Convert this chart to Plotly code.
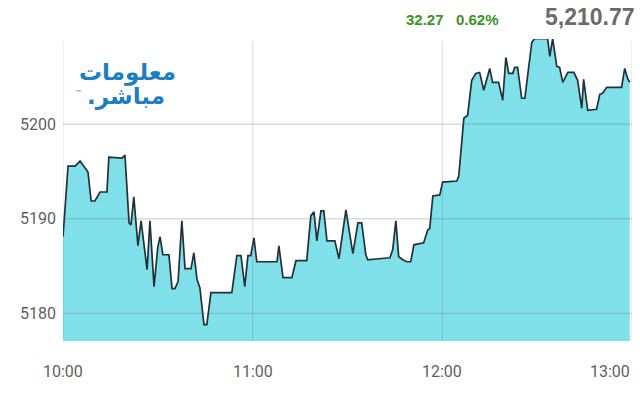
import plotly.graph_objects as go

# minutes after 10:00 and index level
minutes = [0, 1.6, 3.8, 5.4, 7.9, 8.9, 10.1, 11.7, 13.9, 14.5, 18.7, 19.6, 20.9, 21.5, 22.4, 23.7,
           24.7, 26.6, 27.5, 28.8, 30.0, 30.7, 31.6, 33.5, 34.5, 35.4, 36.4, 37.6, 38.6, 40.5,
           41.4, 42.4, 43.3, 44.6, 45.5, 46.8, 53.4, 55.0, 56.3, 57.5, 58.5, 59.4, 60.4, 61.3,
           67.7, 68.3, 69.6, 72.4, 73.7, 77.1, 78.4, 79.4, 80.3, 81.6, 82.5, 83.5, 86.0, 87.3,
           89.5, 91.7, 93.3, 94.5, 95.8, 96.4, 99.9, 103.4, 104.3, 105.3, 106.2, 107.5, 108.8,
           110.0, 111.0, 114.1, 115.4, 116.0, 117.0, 119.2, 120.1, 124.6, 125.2, 126.1, 126.8,
           128.0, 129.3, 130.6, 131.8, 133.1, 135.0, 135.9, 137.8, 139.1, 140.1, 141.0, 142.3,
           142.9, 143.8, 145.1, 146.1, 148.3, 149.2, 153.3, 154.0, 154.9, 156.2, 157.1, 158.1,
           159.7, 161.6, 162.8, 164.1, 164.7, 166.0, 168.8, 169.8, 170.7, 172.0, 176.7, 177.7,
           178.6, 179.3]
values = [5188.11, 5195.58, 5195.58, 5196.11, 5194.95, 5191.89, 5191.89, 5192.84, 5192.84,
          5196.53, 5196.42, 5196.74, 5189.58, 5189.37, 5192.32, 5187.16, 5189.79, 5184.63,
          5189.79, 5182.84, 5187.05, 5188.11, 5186.21, 5186.21, 5182.63, 5182.63, 5183.37,
          5189.79, 5184.74, 5184.74, 5186.42, 5183.58, 5182.74, 5178.84, 5178.84, 5182.21,
          5182.21, 5186.11, 5186.11, 5182.84, 5186.11, 5186.11, 5188.00, 5185.47, 5185.47,
          5187.16, 5183.79, 5183.79, 5185.58, 5185.58, 5190.32, 5190.74, 5187.68, 5190.84,
          5190.84, 5187.68, 5187.68, 5185.79, 5190.95, 5186.32, 5189.58, 5189.58, 5186.21,
          5185.68, 5185.79, 5185.89, 5186.74, 5189.79, 5186.00, 5185.68, 5185.47, 5185.47,
          5187.26, 5187.47, 5188.84, 5188.95, 5192.42, 5192.53, 5193.89, 5194.00, 5194.53,
          5197.58, 5200.63, 5200.95, 5204.63, 5205.37, 5205.47, 5203.58, 5205.89, 5204.42,
          5204.42, 5202.53, 5207.05, 5205.37, 5205.37, 5206.00, 5206.00, 5202.74, 5202.74,
          5208.63, 5209.05, 5209.05, 5207.16, 5209.05, 5206.11, 5206.00, 5204.42, 5205.47,
          5205.47, 5204.63, 5201.68, 5204.74, 5201.47, 5201.58, 5203.16, 5203.26, 5203.89,
          5203.89, 5205.89, 5204.84, 5204.42]

x_tick_vals = [0, 60, 120, 180]
x_tick_text = ["10:00", "11:00", "12:00", "13:00"]
y_tick_vals = [5180, 5190, 5200]

last_value = 5210.77
change = 32.27
change_pct = 0.62

fig = go.Figure()
fig.add_trace(go.Scatter(
    x=minutes, y=values, mode="lines",
    line=dict(color="#22303a", width=1.7),
    fill="tozeroy", fillcolor="#7fe0ea",
    hoverinfo="skip",
))

grid_col = "rgba(90,90,90,0.22)"
shapes = []
for v in y_tick_vals:
    shapes.append(dict(type="line", xref="paper", x0=0, x1=1, yref="y", y0=v, y1=v,
                       line=dict(color=grid_col, width=1.5), layer="above"))
for t in x_tick_vals:
    shapes.append(dict(type="line", xref="x", x0=t, x1=t, yref="paper", y0=0, y1=0.992,
                       line=dict(color=grid_col, width=1), layer="above"))

tick_font = dict(family="Roboto", size=16, color="#5f5f5f")
annotations = []
for i, (t, lab) in enumerate(zip(x_tick_vals, x_tick_text)):
    annotations.append(dict(x=t, y=0, xref="x", yref="paper", text=lab, showarrow=False,
                            xanchor="right" if i == len(x_tick_vals) - 1 else "center",
                            yanchor="top", yshift=-19, font=tick_font))

annotations += [
    dict(x=1.008, y=1.072, xref="paper", yref="paper", text=f"<b>{last_value:,.2f}</b>", showarrow=False,
         xanchor="right", yanchor="middle", font=dict(family="Liberation Sans, Arial", size=23, color="#6b6b6b")),
    dict(x=0.636, y=1.063, xref="paper", yref="paper", text=f"<b>{change:.2f}</b>", showarrow=False,
         xanchor="center", yanchor="middle", font=dict(family="Liberation Sans, Arial", size=15, color="#3a9424")),
    dict(x=0.729, y=1.063, xref="paper", yref="paper", text=f"<b>{change_pct:.2f}%</b>", showarrow=False,
         xanchor="center", yanchor="middle", font=dict(family="Liberation Sans, Arial", size=15, color="#3a9424")),
    dict(x=0.114, y=0.89, xref="paper", yref="paper", text="<b>معلومات</b>", showarrow=False,
         xanchor="center", yanchor="middle", font=dict(family="DejaVu Sans", size=23, color="#1b7fc4")),
    dict(x=0.11, y=0.808, xref="paper", yref="paper", text="<b>.مباشر</b>", showarrow=False,
         xanchor="center", yanchor="middle", font=dict(family="DejaVu Sans", size=23, color="#1b7fc4")),
    dict(x=0.028, y=0.822, xref="paper", yref="paper", text="™", showarrow=False,
         xanchor="center", yanchor="middle", font=dict(family="DejaVu Sans", size=7, color="#1b7fc4")),
]

fig.update_layout(
    width=640, height=400,
    margin=dict(l=63, r=8, t=39, b=59),
    paper_bgcolor="white", plot_bgcolor="white",
    showlegend=False,
    xaxis=dict(range=[0, 180], showgrid=False, zeroline=False, showticklabels=False,
               showline=False, fixedrange=True, automargin=False),
    yaxis=dict(range=[5177.1, 5209.0], showgrid=False, zeroline=False, automargin=False,
               tickvals=y_tick_vals, ticktext=[str(v) for v in y_tick_vals],
               ticklabelstandoff=6, tickfont=tick_font, showline=False, fixedrange=True),
    shapes=shapes,
    annotations=annotations,
)

fig.write_html("out.html", config={"displayModeBar": False},
               post_script="document.body.style.margin='0';")
